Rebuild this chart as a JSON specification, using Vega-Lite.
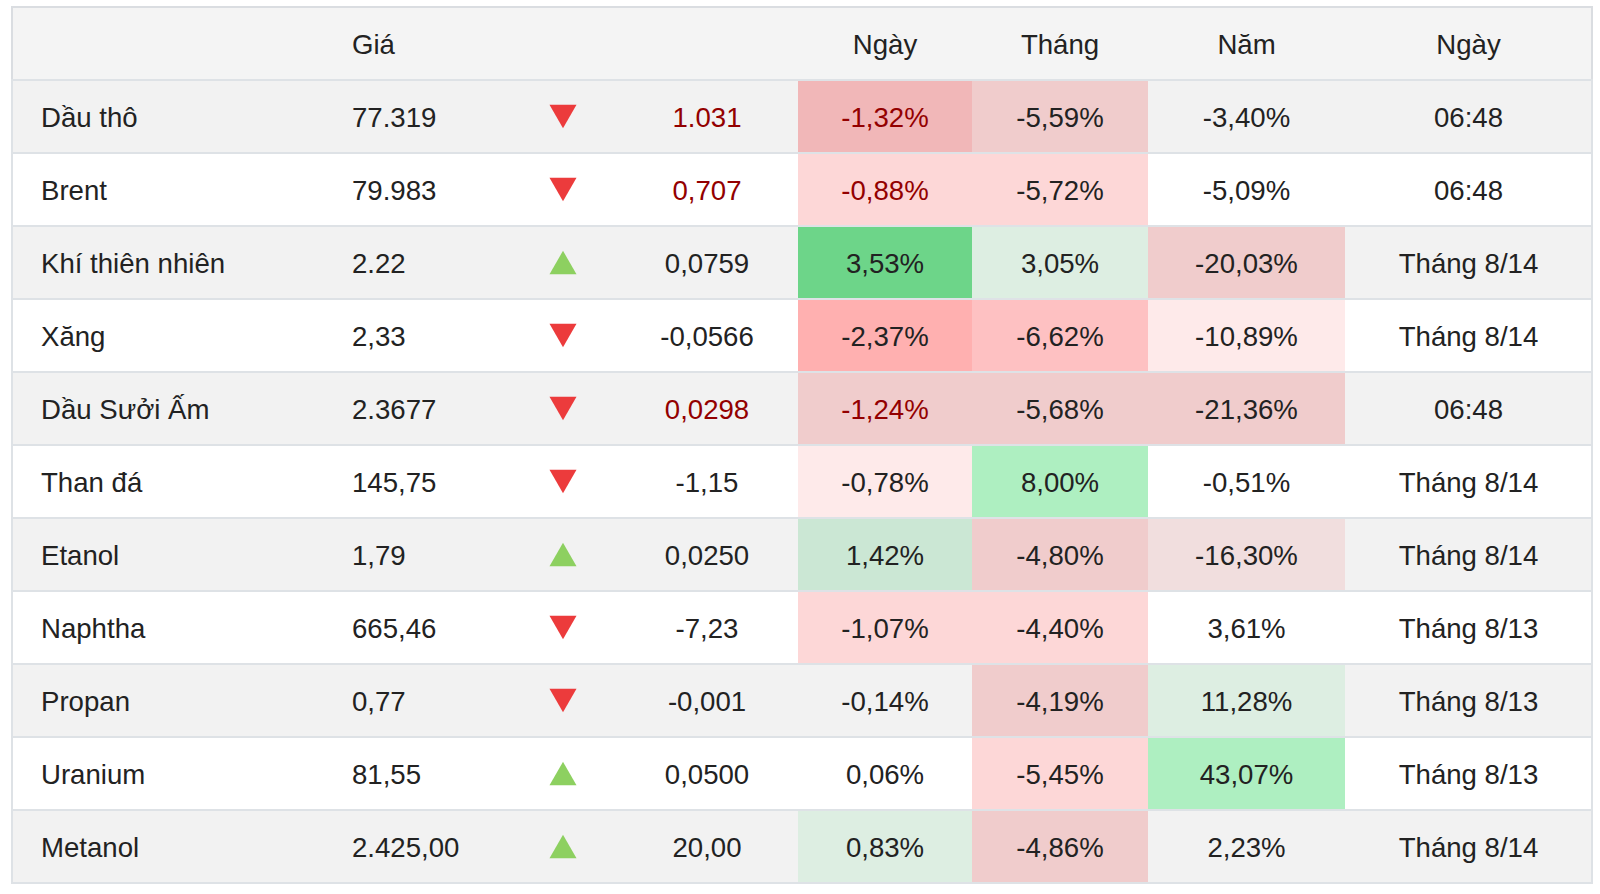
{
  "$schema": "https://vega.github.io/schema/vega-lite/v6.json",
  "width": 1600,
  "height": 894,
  "autosize": {"type": "fit", "contains": "padding"},
  "padding": 0,
  "background": "#ffffff",
  "config": {
    "view": {"stroke": null},
    "axis": {"disable": true},
    "legend": {"disable": true},
    "text": {"font": "Liberation Sans", "fontSize": 27.6, "baseline": "middle", "color": "#222222", "dy": 2}
  },
  "datasets": {
    "t": [
      {"name": "Dầu thô", "price": "77.319", "dir": "down", "chg": "1.031", "day": "-1,32%", "month": "-5,59%", "year": "-3,40%", "time": "06:48", "dayHeat": -3, "monthHeat": -2, "yearHeat": 0},
      {"name": "Brent", "price": "79.983", "dir": "down", "chg": "0,707", "day": "-0,88%", "month": "-5,72%", "year": "-5,09%", "time": "06:48", "dayHeat": -2, "monthHeat": -2, "yearHeat": 0},
      {"name": "Khí thiên nhiên", "price": "2.22", "dir": "up", "chg": "0,0759", "day": "3,53%", "month": "3,05%", "year": "-20,03%", "time": "Tháng 8/14", "dayHeat": 4, "monthHeat": 1, "yearHeat": -2},
      {"name": "Xăng", "price": "2,33", "dir": "down", "chg": "-0,0566", "day": "-2,37%", "month": "-6,62%", "year": "-10,89%", "time": "Tháng 8/14", "dayHeat": -4, "monthHeat": -3, "yearHeat": -1},
      {"name": "Dầu Sưởi Ấm", "price": "2.3677", "dir": "down", "chg": "0,0298", "day": "-1,24%", "month": "-5,68%", "year": "-21,36%", "time": "06:48", "dayHeat": -2, "monthHeat": -2, "yearHeat": -2},
      {"name": "Than đá", "price": "145,75", "dir": "down", "chg": "-1,15", "day": "-0,78%", "month": "8,00%", "year": "-0,51%", "time": "Tháng 8/14", "dayHeat": -1, "monthHeat": 3, "yearHeat": 0},
      {"name": "Etanol", "price": "1,79", "dir": "up", "chg": "0,0250", "day": "1,42%", "month": "-4,80%", "year": "-16,30%", "time": "Tháng 8/14", "dayHeat": 2, "monthHeat": -2, "yearHeat": -1},
      {"name": "Naphtha", "price": "665,46", "dir": "down", "chg": "-7,23", "day": "-1,07%", "month": "-4,40%", "year": "3,61%", "time": "Tháng 8/13", "dayHeat": -2, "monthHeat": -2, "yearHeat": 0},
      {"name": "Propan", "price": "0,77", "dir": "down", "chg": "-0,001", "day": "-0,14%", "month": "-4,19%", "year": "11,28%", "time": "Tháng 8/13", "dayHeat": 0, "monthHeat": -2, "yearHeat": 1},
      {"name": "Uranium", "price": "81,55", "dir": "up", "chg": "0,0500", "day": "0,06%", "month": "-5,45%", "year": "43,07%", "time": "Tháng 8/13", "dayHeat": 0, "monthHeat": -2, "yearHeat": 3},
      {"name": "Metanol", "price": "2.425,00", "dir": "up", "chg": "20,00", "day": "0,83%", "month": "-4,86%", "year": "2,23%", "time": "Tháng 8/14", "dayHeat": 1, "monthHeat": -2, "yearHeat": 0}
    ]
  },
  "layer": [
    {
      "data": {"values": [{"label": "header"}]},
      "mark": {"type": "rect", "fill": "#f4f4f4", "stroke": "#dadde1", "strokeWidth": 2},
      "encoding": {
        "x": {"datum": 0, "type": "quantitative", "scale": {"type": "linear", "domain": [0, 1, 2, 3, 4, 5, 6, 7, 8], "range": [12, 323, 510, 616, 798, 972, 1148, 1345, 1592], "zero": false, "nice": false}},
        "x2": {"datum": 8},
        "y": {"datum": "header", "type": "nominal", "scale": {"type": "band", "domain": ["header", "Dầu thô", "Brent", "Khí thiên nhiên", "Xăng", "Dầu Sưởi Ấm", "Than đá", "Etanol", "Naphtha", "Propan", "Uranium", "Metanol"], "range": [7, 883], "paddingInner": 0, "paddingOuter": 0}}
      }
    },
    {
      "data": {"name": "t"},
      "mark": {"type": "rect"},
      "encoding": {
        "x": {"datum": 4, "type": "quantitative", "scale": {"type": "linear", "domain": [0, 1, 2, 3, 4, 5, 6, 7, 8], "range": [12, 323, 510, 616, 798, 972, 1148, 1345, 1592], "zero": false, "nice": false}},
        "x2": {"datum": 5},
        "y": {"field": "name", "type": "nominal", "scale": {"type": "band", "domain": ["header", "Dầu thô", "Brent", "Khí thiên nhiên", "Xăng", "Dầu Sưởi Ấm", "Than đá", "Etanol", "Naphtha", "Propan", "Uranium", "Metanol"], "range": [7, 883], "paddingInner": 0, "paddingOuter": 0}},
        "fill": {"field": "dayHeat", "type": "ordinal", "scale": {"domain": [-4, -3, -2, -1, 0, 1, 2, 3, 4], "range": ["#ffb0b0", "#fec1c2", "#fdd7d7", "#feeaea", "rgba(0,0,0,0)", "#e9fbef", "#d6f4e0", "#aeefc1", "#73e191"]}}
      }
    },
    {
      "data": {"name": "t"},
      "mark": {"type": "rect"},
      "encoding": {
        "x": {"datum": 5, "type": "quantitative", "scale": {"type": "linear", "domain": [0, 1, 2, 3, 4, 5, 6, 7, 8], "range": [12, 323, 510, 616, 798, 972, 1148, 1345, 1592], "zero": false, "nice": false}},
        "x2": {"datum": 6},
        "y": {"field": "name", "type": "nominal", "scale": {"type": "band", "domain": ["header", "Dầu thô", "Brent", "Khí thiên nhiên", "Xăng", "Dầu Sưởi Ấm", "Than đá", "Etanol", "Naphtha", "Propan", "Uranium", "Metanol"], "range": [7, 883], "paddingInner": 0, "paddingOuter": 0}},
        "fill": {"field": "monthHeat", "type": "ordinal", "scale": {"domain": [-4, -3, -2, -1, 0, 1, 2, 3, 4], "range": ["#ffb0b0", "#fec1c2", "#fdd7d7", "#feeaea", "rgba(0,0,0,0)", "#e9fbef", "#d6f4e0", "#aeefc1", "#73e191"]}}
      }
    },
    {
      "data": {"name": "t"},
      "mark": {"type": "rect"},
      "encoding": {
        "x": {"datum": 6, "type": "quantitative", "scale": {"type": "linear", "domain": [0, 1, 2, 3, 4, 5, 6, 7, 8], "range": [12, 323, 510, 616, 798, 972, 1148, 1345, 1592], "zero": false, "nice": false}},
        "x2": {"datum": 7},
        "y": {"field": "name", "type": "nominal", "scale": {"type": "band", "domain": ["header", "Dầu thô", "Brent", "Khí thiên nhiên", "Xăng", "Dầu Sưởi Ấm", "Than đá", "Etanol", "Naphtha", "Propan", "Uranium", "Metanol"], "range": [7, 883], "paddingInner": 0, "paddingOuter": 0}},
        "fill": {"field": "yearHeat", "type": "ordinal", "scale": {"domain": [-4, -3, -2, -1, 0, 1, 2, 3, 4], "range": ["#ffb0b0", "#fec1c2", "#fdd7d7", "#feeaea", "rgba(0,0,0,0)", "#e9fbef", "#d6f4e0", "#aeefc1", "#73e191"]}}
      }
    },
    {
      "data": {"name": "t"},
      "transform": [{"window": [{"op": "row_number", "as": "rn"}]}],
      "mark": {"type": "rect", "fill": "#000000", "stroke": "#dee2e6", "strokeWidth": 2, "strokeOpacity": 1},
      "encoding": {
        "x": {"datum": 0, "type": "quantitative", "scale": {"type": "linear", "domain": [0, 1, 2, 3, 4, 5, 6, 7, 8], "range": [12, 323, 510, 616, 798, 972, 1148, 1345, 1592], "zero": false, "nice": false}},
        "x2": {"datum": 8},
        "y": {"field": "name", "type": "nominal", "scale": {"type": "band", "domain": ["header", "Dầu thô", "Brent", "Khí thiên nhiên", "Xăng", "Dầu Sưởi Ấm", "Than đá", "Etanol", "Naphtha", "Propan", "Uranium", "Metanol"], "range": [7, 883], "paddingInner": 0, "paddingOuter": 0}},
        "fillOpacity": {"condition": {"test": "datum.rn % 2 == 1", "value": 0.05}, "value": 0}
      }
    },
    {
      "data": {"values": [{"label": "Giá"}]},
      "mark": {"type": "text", "align": "left", "dx": 29},
      "encoding": {
        "x": {"datum": 1, "type": "quantitative", "scale": {"type": "linear", "domain": [0, 1, 2, 3, 4, 5, 6, 7, 8], "range": [12, 323, 510, 616, 798, 972, 1148, 1345, 1592], "zero": false, "nice": false}},
        "y": {"datum": "header", "type": "nominal", "scale": {"type": "band", "domain": ["header", "Dầu thô", "Brent", "Khí thiên nhiên", "Xăng", "Dầu Sưởi Ấm", "Than đá", "Etanol", "Naphtha", "Propan", "Uranium", "Metanol"], "range": [7, 883], "paddingInner": 0, "paddingOuter": 0}},
        "text": {"field": "label"}
      }
    },
    {
      "data": {"values": [{"label": "Ngày"}]},
      "mark": {"type": "text", "align": "center"},
      "encoding": {
        "x": {"datum": 4.5, "type": "quantitative", "scale": {"type": "linear", "domain": [0, 1, 2, 3, 4, 5, 6, 7, 8], "range": [12, 323, 510, 616, 798, 972, 1148, 1345, 1592], "zero": false, "nice": false}},
        "y": {"datum": "header", "type": "nominal", "scale": {"type": "band", "domain": ["header", "Dầu thô", "Brent", "Khí thiên nhiên", "Xăng", "Dầu Sưởi Ấm", "Than đá", "Etanol", "Naphtha", "Propan", "Uranium", "Metanol"], "range": [7, 883], "paddingInner": 0, "paddingOuter": 0}},
        "text": {"field": "label"}
      }
    },
    {
      "data": {"values": [{"label": "Tháng"}]},
      "mark": {"type": "text", "align": "center"},
      "encoding": {
        "x": {"datum": 5.5, "type": "quantitative", "scale": {"type": "linear", "domain": [0, 1, 2, 3, 4, 5, 6, 7, 8], "range": [12, 323, 510, 616, 798, 972, 1148, 1345, 1592], "zero": false, "nice": false}},
        "y": {"datum": "header", "type": "nominal", "scale": {"type": "band", "domain": ["header", "Dầu thô", "Brent", "Khí thiên nhiên", "Xăng", "Dầu Sưởi Ấm", "Than đá", "Etanol", "Naphtha", "Propan", "Uranium", "Metanol"], "range": [7, 883], "paddingInner": 0, "paddingOuter": 0}},
        "text": {"field": "label"}
      }
    },
    {
      "data": {"values": [{"label": "Năm"}]},
      "mark": {"type": "text", "align": "center"},
      "encoding": {
        "x": {"datum": 6.5, "type": "quantitative", "scale": {"type": "linear", "domain": [0, 1, 2, 3, 4, 5, 6, 7, 8], "range": [12, 323, 510, 616, 798, 972, 1148, 1345, 1592], "zero": false, "nice": false}},
        "y": {"datum": "header", "type": "nominal", "scale": {"type": "band", "domain": ["header", "Dầu thô", "Brent", "Khí thiên nhiên", "Xăng", "Dầu Sưởi Ấm", "Than đá", "Etanol", "Naphtha", "Propan", "Uranium", "Metanol"], "range": [7, 883], "paddingInner": 0, "paddingOuter": 0}},
        "text": {"field": "label"}
      }
    },
    {
      "data": {"values": [{"label": "Ngày"}]},
      "mark": {"type": "text", "align": "center"},
      "encoding": {
        "x": {"datum": 7.5, "type": "quantitative", "scale": {"type": "linear", "domain": [0, 1, 2, 3, 4, 5, 6, 7, 8], "range": [12, 323, 510, 616, 798, 972, 1148, 1345, 1592], "zero": false, "nice": false}},
        "y": {"datum": "header", "type": "nominal", "scale": {"type": "band", "domain": ["header", "Dầu thô", "Brent", "Khí thiên nhiên", "Xăng", "Dầu Sưởi Ấm", "Than đá", "Etanol", "Naphtha", "Propan", "Uranium", "Metanol"], "range": [7, 883], "paddingInner": 0, "paddingOuter": 0}},
        "text": {"field": "label"}
      }
    },
    {
      "data": {"name": "t"},
      "mark": {"type": "text", "align": "left", "dx": 29},
      "encoding": {
        "x": {"datum": 0, "type": "quantitative", "scale": {"type": "linear", "domain": [0, 1, 2, 3, 4, 5, 6, 7, 8], "range": [12, 323, 510, 616, 798, 972, 1148, 1345, 1592], "zero": false, "nice": false}},
        "y": {"field": "name", "type": "nominal", "scale": {"type": "band", "domain": ["header", "Dầu thô", "Brent", "Khí thiên nhiên", "Xăng", "Dầu Sưởi Ấm", "Than đá", "Etanol", "Naphtha", "Propan", "Uranium", "Metanol"], "range": [7, 883], "paddingInner": 0, "paddingOuter": 0}},
        "text": {"field": "name"}
      }
    },
    {
      "data": {"name": "t"},
      "mark": {"type": "text", "align": "left", "dx": 29},
      "encoding": {
        "x": {"datum": 1, "type": "quantitative", "scale": {"type": "linear", "domain": [0, 1, 2, 3, 4, 5, 6, 7, 8], "range": [12, 323, 510, 616, 798, 972, 1148, 1345, 1592], "zero": false, "nice": false}},
        "y": {"field": "name", "type": "nominal", "scale": {"type": "band", "domain": ["header", "Dầu thô", "Brent", "Khí thiên nhiên", "Xăng", "Dầu Sưởi Ấm", "Than đá", "Etanol", "Naphtha", "Propan", "Uranium", "Metanol"], "range": [7, 883], "paddingInner": 0, "paddingOuter": 0}},
        "text": {"field": "price"}
      }
    },
    {
      "data": {"name": "t"},
      "mark": {"type": "point", "filled": true, "opacity": 1, "size": 729, "strokeWidth": 0},
      "encoding": {
        "x": {"datum": 2.5, "type": "quantitative", "scale": {"type": "linear", "domain": [0, 1, 2, 3, 4, 5, 6, 7, 8], "range": [12, 323, 510, 616, 798, 972, 1148, 1345, 1592], "zero": false, "nice": false}},
        "y": {"field": "name", "type": "nominal", "scale": {"type": "band", "domain": ["header", "Dầu thô", "Brent", "Khí thiên nhiên", "Xăng", "Dầu Sưởi Ấm", "Than đá", "Etanol", "Naphtha", "Propan", "Uranium", "Metanol"], "range": [7, 883], "paddingInner": 0, "paddingOuter": 0}},
        "shape": {"field": "dir", "type": "nominal", "scale": {"domain": ["down", "up"], "range": ["triangle-down", "triangle-up"]}},
        "color": {"field": "dir", "type": "nominal", "scale": {"domain": ["down", "up"], "range": ["#ec3b3c", "#8dd060"]}}
      }
    },
    {
      "data": {"name": "t"},
      "mark": {"type": "text", "align": "center"},
      "encoding": {
        "x": {"datum": 3.5, "type": "quantitative", "scale": {"type": "linear", "domain": [0, 1, 2, 3, 4, 5, 6, 7, 8], "range": [12, 323, 510, 616, 798, 972, 1148, 1345, 1592], "zero": false, "nice": false}},
        "y": {"field": "name", "type": "nominal", "scale": {"type": "band", "domain": ["header", "Dầu thô", "Brent", "Khí thiên nhiên", "Xăng", "Dầu Sưởi Ấm", "Than đá", "Etanol", "Naphtha", "Propan", "Uranium", "Metanol"], "range": [7, 883], "paddingInner": 0, "paddingOuter": 0}},
        "text": {"field": "chg"},
        "color": {"condition": {"test": "datum.time == '06:48'", "value": "#930000"}, "value": "#222222"}
      }
    },
    {
      "data": {"name": "t"},
      "mark": {"type": "text", "align": "center"},
      "encoding": {
        "x": {"datum": 4.5, "type": "quantitative", "scale": {"type": "linear", "domain": [0, 1, 2, 3, 4, 5, 6, 7, 8], "range": [12, 323, 510, 616, 798, 972, 1148, 1345, 1592], "zero": false, "nice": false}},
        "y": {"field": "name", "type": "nominal", "scale": {"type": "band", "domain": ["header", "Dầu thô", "Brent", "Khí thiên nhiên", "Xăng", "Dầu Sưởi Ấm", "Than đá", "Etanol", "Naphtha", "Propan", "Uranium", "Metanol"], "range": [7, 883], "paddingInner": 0, "paddingOuter": 0}},
        "text": {"field": "day"},
        "color": {"condition": {"test": "datum.time == '06:48'", "value": "#930000"}, "value": "#222222"}
      }
    },
    {
      "data": {"name": "t"},
      "mark": {"type": "text", "align": "center"},
      "encoding": {
        "x": {"datum": 5.5, "type": "quantitative", "scale": {"type": "linear", "domain": [0, 1, 2, 3, 4, 5, 6, 7, 8], "range": [12, 323, 510, 616, 798, 972, 1148, 1345, 1592], "zero": false, "nice": false}},
        "y": {"field": "name", "type": "nominal", "scale": {"type": "band", "domain": ["header", "Dầu thô", "Brent", "Khí thiên nhiên", "Xăng", "Dầu Sưởi Ấm", "Than đá", "Etanol", "Naphtha", "Propan", "Uranium", "Metanol"], "range": [7, 883], "paddingInner": 0, "paddingOuter": 0}},
        "text": {"field": "month"}
      }
    },
    {
      "data": {"name": "t"},
      "mark": {"type": "text", "align": "center"},
      "encoding": {
        "x": {"datum": 6.5, "type": "quantitative", "scale": {"type": "linear", "domain": [0, 1, 2, 3, 4, 5, 6, 7, 8], "range": [12, 323, 510, 616, 798, 972, 1148, 1345, 1592], "zero": false, "nice": false}},
        "y": {"field": "name", "type": "nominal", "scale": {"type": "band", "domain": ["header", "Dầu thô", "Brent", "Khí thiên nhiên", "Xăng", "Dầu Sưởi Ấm", "Than đá", "Etanol", "Naphtha", "Propan", "Uranium", "Metanol"], "range": [7, 883], "paddingInner": 0, "paddingOuter": 0}},
        "text": {"field": "year"}
      }
    },
    {
      "data": {"name": "t"},
      "mark": {"type": "text", "align": "center"},
      "encoding": {
        "x": {"datum": 7.5, "type": "quantitative", "scale": {"type": "linear", "domain": [0, 1, 2, 3, 4, 5, 6, 7, 8], "range": [12, 323, 510, 616, 798, 972, 1148, 1345, 1592], "zero": false, "nice": false}},
        "y": {"field": "name", "type": "nominal", "scale": {"type": "band", "domain": ["header", "Dầu thô", "Brent", "Khí thiên nhiên", "Xăng", "Dầu Sưởi Ấm", "Than đá", "Etanol", "Naphtha", "Propan", "Uranium", "Metanol"], "range": [7, 883], "paddingInner": 0, "paddingOuter": 0}},
        "text": {"field": "time"}
      }
    }
  ]
}
